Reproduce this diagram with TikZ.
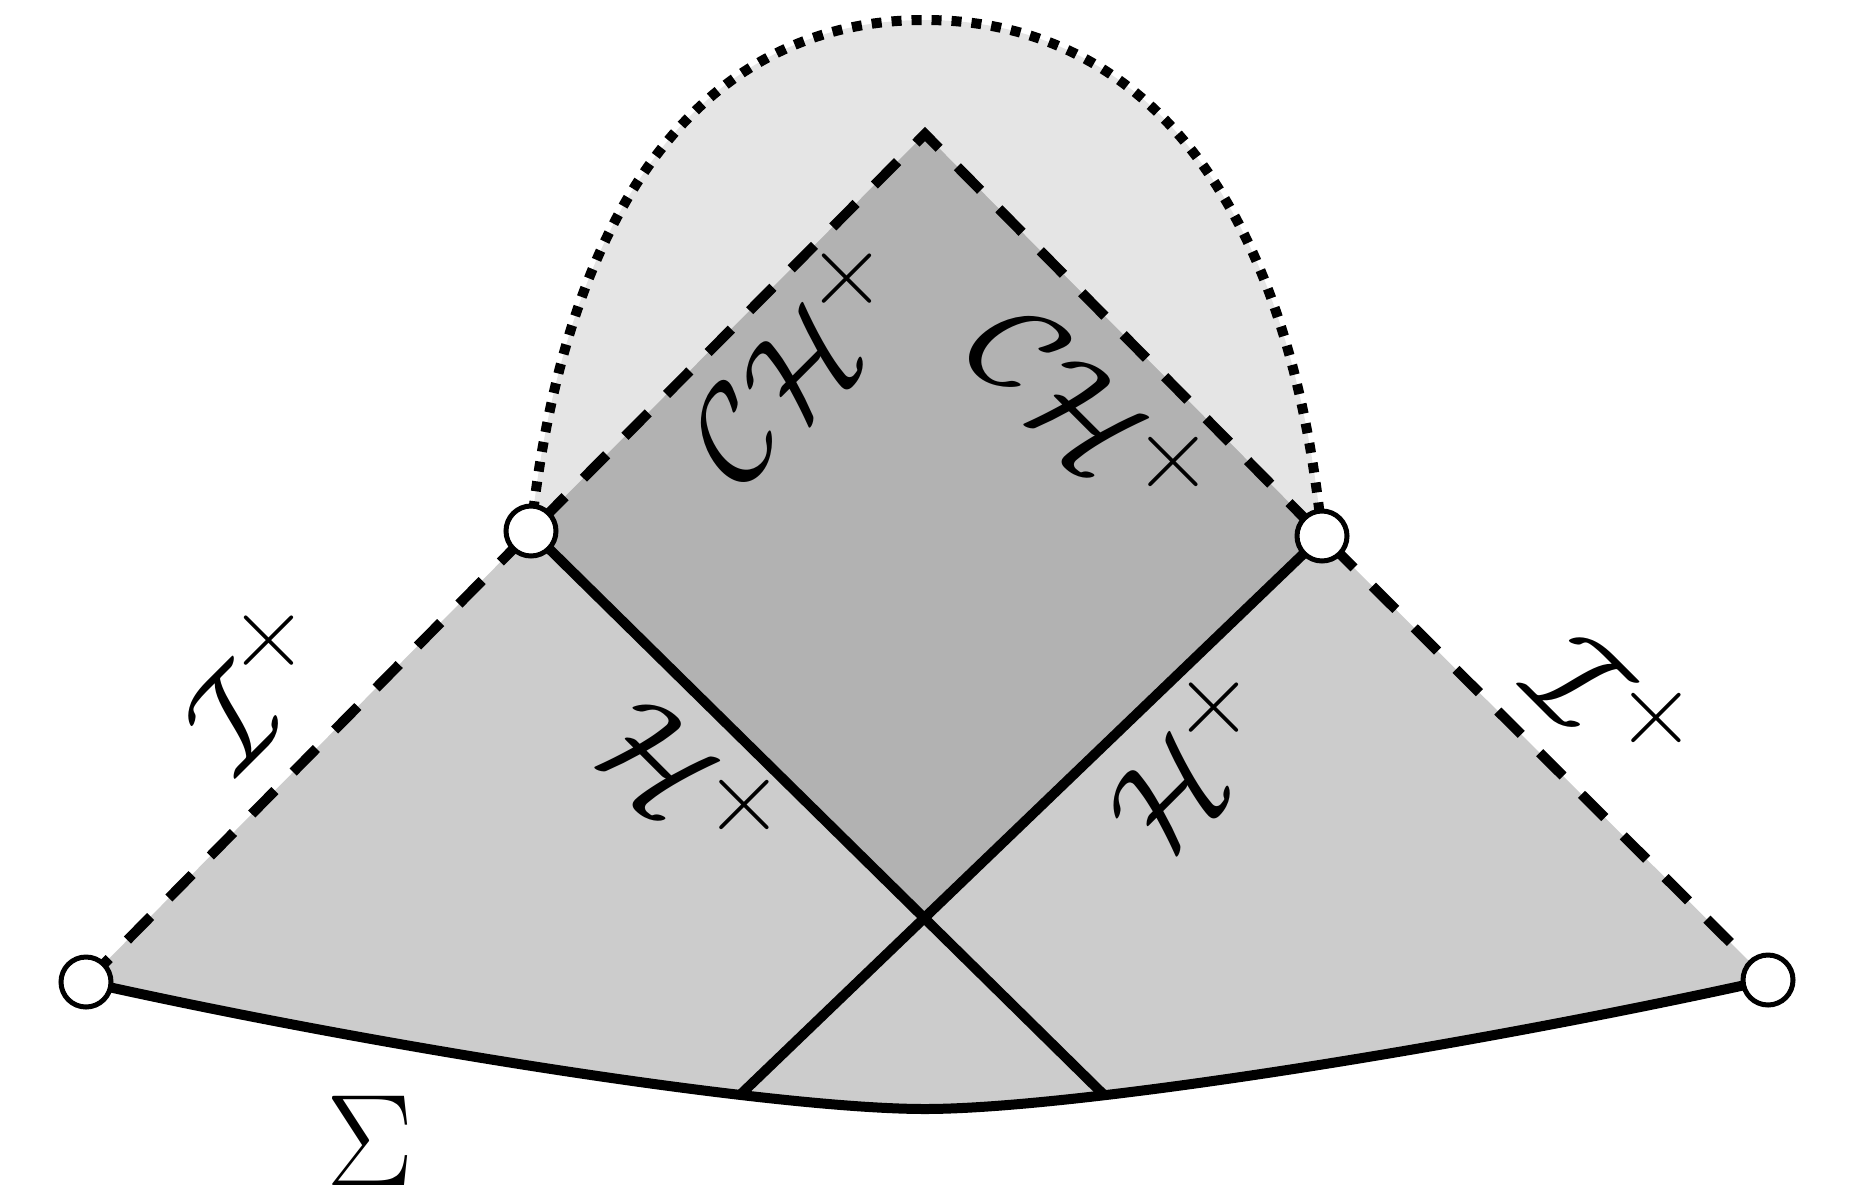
\documentclass[tikz,border=0pt]{standalone}
\begin{document}
\begin{tikzpicture}[x=1pt,y=-1pt,
  solidline/.style={line width=10pt},
  dashline/.style={line width=10pt, dash pattern=on 33pt off 26pt},
  dotline/.style={line width=10pt, dash pattern=on 10pt off 10pt},
  hole/.style={circle, draw, line width=5pt, fill=white, minimum size=50pt, inner sep=0pt},
  lab/.style={scale=5.25, font=\Huge, inner sep=0pt}]
\useasboundingbox (0,0) rectangle (1854,1191);
\coordinate (L) at (86,982);
\coordinate (R) at (1768,980);
\coordinate (UL) at (531,531);
\coordinate (UR) at (1322,536);
\coordinate (T) at (925,134);
\coordinate (B) at (925,1109);
\coordinate (X) at (925,917);
\coordinate (BL) at (741,1094);
\coordinate (BR) at (1104,1095);
% fills
\fill[black!10] (UL) .. controls (565,210) and (700,20) .. (925,20) .. controls (1150,20) and (1290,210) .. (UR) -- cycle;
\fill[black!20] (L) -- (UL) -- (T) -- (UR) -- (R) .. controls (1466,1047) and (1075,1109) .. (B) .. controls (775,1109) and (386,1049) .. (L) -- cycle;
\fill[black!30] (UL) -- (T) -- (UR) -- (X) -- cycle;
% lines
\draw[dotline] (UL) .. controls (565,210) and (700,20) .. (925,20) .. controls (1150,20) and (1290,210) .. (UR);
\draw[dashline] (L) -- (UL) -- (T) -- (UR) -- (R);
\draw[solidline] (UL) -- (BR);
\draw[solidline] (UR) -- (BL);
\draw[solidline] (L) .. controls (386,1049) and (775,1109) .. (B) .. controls (1075,1109) and (1466,1047) .. (R);
% points
\node[hole] (cL) at (L) {};
\node[hole] (cR) at (R) {};
\node[hole] (cUL) at (UL) {};
\node[hole] (cUR) at (UR) {};
% labels
\node[lab, rotate=45] (chl) at (796,358) {$\mathcal{CH}^+$};
\node[lab, rotate=-45] (chr) at (1094,411) {$\mathcal{CH}^+$};
\node[lab, rotate=-45] (hl) at (692,781) {$\mathcal{H}^+$};
\node[lab, rotate=45] (hr) at (1190,760) {$\mathcal{H}^+$};
\node[lab, rotate=45] (il) at (256,682) {$\mathcal{I}^+$};
\node[lab, rotate=-45] (ir) at (1614,705) {$\mathcal{I}^+$};
\node[lab] (sig) at (370,1141) {$\Sigma$};
\end{tikzpicture}
\end{document}
